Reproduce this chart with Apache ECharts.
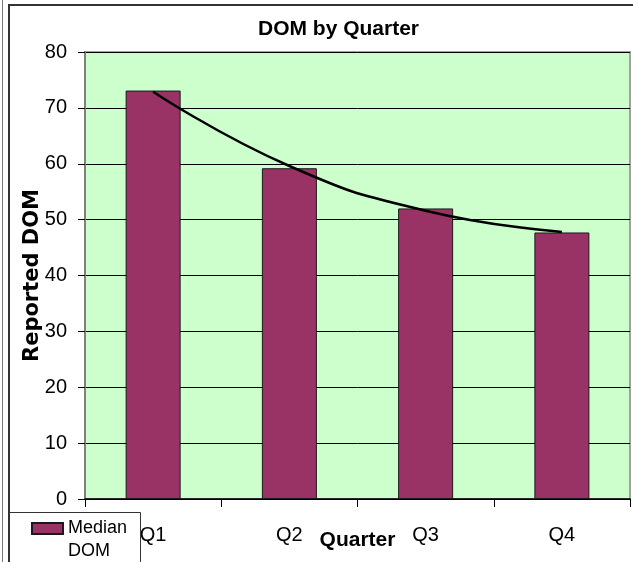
<!DOCTYPE html>
<html>
<head>
<meta charset="utf-8">
<script src="https://cdn.jsdelivr.net/npm/echarts@6/dist/echarts.min.js"></script>
<style>
html,body{margin:0;padding:0;background:#fff;}
#chart{width:633px;height:562px;}
</style>
</head>
<body>
<div id="chart"></div>
<script>
const categories = ['Q1', 'Q2', 'Q3', 'Q4'];
const medianDOM = [73.1, 59.2, 52.0, 47.7];
const trendValues = [72.9, 59.6, 51.6, 47.8];
const yTicks = { min: 0, max: 80, interval: 10 };

const chart = echarts.init(document.getElementById('chart'), null, { renderer: 'canvas' });
const FONT = '"Liberation Sans", Arial, sans-serif';

chart.setOption({
  animation: false,
  backgroundColor: '#ffffff',
  title: {
    text: 'DOM by Quarter',
    left: 258,
    top: 19,
    padding: 0,
    textStyle: { fontFamily: FONT, fontSize: 21, fontWeight: 'bold', color: '#000' }
  },
  grid: {
    left: 85, right: 3, top: 52, bottom: 63,
    containLabel: false,
    outerBoundsMode: 'none',
    show: true,
    backgroundColor: '#CCFFCC',
    borderColor: '#a0a0a0',
    borderWidth: 2
  },
  legend: {
    data: ['Median DOM'],
    left: 31,
    top: 494,
    padding: 0,
    z: 10,
    icon: 'rect',
    itemWidth: 31,
    itemHeight: 11,
    formatter: function (name) { return '\n' + name.replace(' ', '\n'); },
    textStyle: {
      fontFamily: FONT, fontSize: 18, color: '#000',
      lineHeight: 23
    }
  },
  xAxis: {
    type: 'category',
    data: categories,
    boundaryGap: true,
    name: 'Quarter',
    nameLocation: 'middle',
    nameGap: 31,
    nameMoveOverlap: false,
    nameTextStyle: { fontFamily: FONT, fontSize: 21, fontWeight: 'bold', color: '#000' },
    axisLine: { show: true, lineStyle: { color: '#000', width: 1.5 } },
    axisTick: { show: true, length: 8, alignWithLabel: false, lineStyle: { color: '#000', width: 1 } },
    axisLabel: { fontFamily: FONT, fontSize: 20, color: '#000', margin: 26 },
    splitLine: { show: false }
  },
  yAxis: {
    type: 'value',
    min: yTicks.min,
    max: yTicks.max,
    interval: yTicks.interval,
    name: 'Reported DOM',
    nameLocation: 'middle',
    nameGap: 42,
    nameRotate: 90,
    nameMoveOverlap: false,
    nameTextStyle: { fontFamily: '"DejaVu Sans", sans-serif', fontSize: 21, fontWeight: 'bold', color: '#000' },
    axisLine: { show: true, lineStyle: { color: '#808080', width: 2 } },
    axisTick: { show: true, length: 7, lineStyle: { color: '#000', width: 1 } },
    axisLabel: { fontFamily: FONT, fontSize: 20, color: '#000', margin: 18 },
    splitLine: { show: true, lineStyle: { color: '#000', width: 1 } }
  },
  series: [
    {
      name: 'Median DOM',
      type: 'bar',
      data: medianDOM,
      barWidth: 55,
      itemStyle: { color: '#993366', borderColor: '#1a1a1a', borderWidth: 1 }
    },
    {
      name: 'Trend',
      type: 'line',
      data: trendValues,
      smooth: true,
      symbol: 'none',
      z: 5,
      lineStyle: { color: '#000', width: 2.5 }
    }
  ],
  graphic: [
    { type: 'rect', z: 1, shape: { x: 9.5, y: 512.5, width: 131, height: 60 },
      style: { fill: '#fff', stroke: '#333', lineWidth: 1 } },
    { type: 'line', z: 1, shape: { x1: 2.5, y1: 0, x2: 2.5, y2: 562 },
      style: { stroke: '#777', lineWidth: 1 } },
    { type: 'line', z: 1, shape: { x1: 9, y1: 5, x2: 9, y2: 562 },
      style: { stroke: '#333', lineWidth: 2 } },
    { type: 'line', z: 1, shape: { x1: 8, y1: 5, x2: 633, y2: 5 },
      style: { stroke: '#333', lineWidth: 2 } }
  ]
});
</script>
</body>
</html>
